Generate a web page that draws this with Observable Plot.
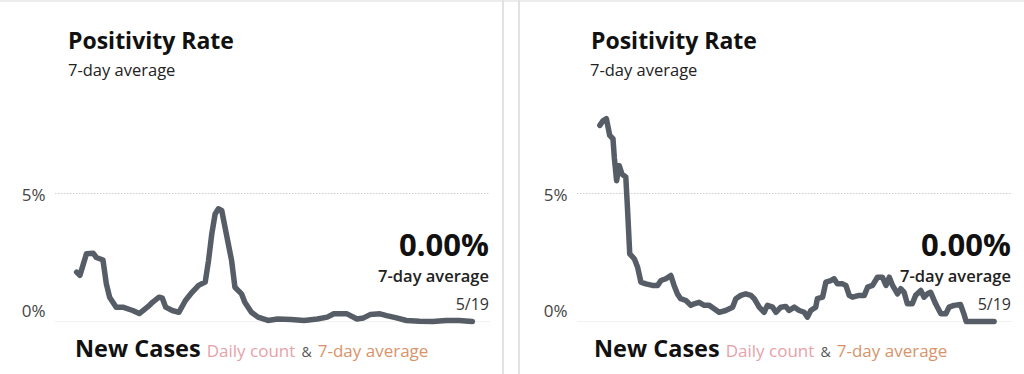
<!DOCTYPE html>
<html>
<head>
<meta charset="utf-8">
<script src="https://cdn.jsdelivr.net/npm/d3@7"></script>
<script src="https://cdn.jsdelivr.net/npm/@observablehq/plot@0.6"></script>
<style>
  html, body { margin: 0; padding: 0; background: #fff; }
  body { width: 1024px; height: 374px; overflow: hidden; position: relative; font-family: "Open Sans", sans-serif; }
  .abs { position: absolute; white-space: nowrap; line-height: 1; z-index: 2; }
  .title { font-weight: 700; font-size: 23px; color: #111; }
  .sub { font-size: 16.5px; color: #222; }
  .big { font-weight: 700; font-size: 31px; color: #111; text-align: right; }
  .avg { font-weight: 600; font-size: 16.5px; color: #222; text-align: right; }
  .date { font-size: 16px; color: #333; text-align: right; }
  .nc { font-weight: 700; font-size: 23.5px; color: #111; }
  .nc span { font-weight: 400; font-size: 17px; }
  .pink { color: #e7a2a9; }
  .amp { color: #555; font-size: 14px !important; }
  .orange { color: #d9936a; }
  .vline { position: absolute; top: 0; width: 2px; height: 374px; background: #e2e2e2; }
  .hline { position: absolute; left: 0; top: 0; width: 1024px; height: 2px; background: #ececec; }
  .chart { position: absolute; top: 0; z-index: 1; }
</style>
</head>
<body>
<div class="hline"></div>
<div class="vline" style="left:502px"></div>
<div class="vline" style="left:518px"></div>
<div id="left" class="chart" style="left:0px"></div>
<div id="right" class="chart" style="left:512px"></div>

<div class="abs title" style="left:68px; top:29px">Positivity Rate</div>
<div class="abs sub" style="left:68px; top:62px">7-day average</div>
<div class="abs big" style="right:535px; top:229px">0.00%</div>
<div class="abs avg" style="right:535px; top:268px">7-day average</div>
<div class="abs date" style="right:535px; top:296px">5/19</div>
<div class="abs nc" style="left:75px; top:337px">New Cases <span class="pink">Daily count</span> <span class="amp">&amp;</span> <span class="orange">7-day average</span></div>

<div class="abs title" style="left:591px; top:29px">Positivity Rate</div>
<div class="abs sub" style="left:590px; top:62px">7-day average</div>
<div class="abs big" style="right:13px; top:229px">0.00%</div>
<div class="abs avg" style="right:13px; top:268px">7-day average</div>
<div class="abs date" style="right:13px; top:296px">5/19</div>
<div class="abs nc" style="left:594px; top:337px">New Cases <span class="pink">Daily count</span> <span class="amp">&amp;</span> <span class="orange">7-day average</span></div>

<script>
// Positivity rate, 7-day average (%), by day index (0 = first day, 120 = 5/19)
const leftDays = [0,1,3,5,6,8,9,10,12,14,17,19,22,23,25,26,27,29,31,33,35,37,39,40,41,42,43,44,45,47,48,50,51,53,55,58,61,65,69,73,76,78,82,85,87,89,92,94,97,100,104,108,112,116,120];
const leftRate = [1.93,1.8,2.65,2.67,2.5,2.4,1.48,0.95,0.56,0.56,0.43,0.31,0.62,0.75,0.95,0.91,0.56,0.43,0.36,0.82,1.14,1.41,1.54,2.38,3.43,4.2,4.4,4.34,3.68,2.38,1.34,1.08,0.75,0.36,0.17,0.04,0.1,0.08,0.04,0.1,0.17,0.3,0.3,0.1,0.14,0.27,0.3,0.23,0.14,0.04,0.01,0,0.04,0.04,0];

const rightDays = [0,1,2,3,4,4.4,5.1,5.9,6.7,7.9,8.4,9.1,10.5,11.5,12.5,14,16,17.6,18.6,20.1,21.6,22.6,23.6,24.6,26.2,27.7,28.7,30.2,31.8,33.3,34.8,36.3,38.3,40.4,41.4,42.9,44.4,46,47,48.5,50,51,52.6,53.6,55.1,56.6,57.6,59.2,60.7,62.2,63.2,64.2,65.7,66.2,67.8,68.8,70.3,71.3,72.3,73.9,74.9,75.9,76.9,78.9,80.5,81.5,83,84.5,86,87.1,88.1,89.1,90.6,91.6,92.6,93.6,95.1,96.1,97.7,98.7,99.7,100.7,102.2,103.8,105.3,106.3,107.8,109.8,110.8,111.5,115.4,120];
const rightRate = [7.66,7.85,7.92,7.27,7.14,6.42,5.5,6.09,5.77,5.64,4.46,2.64,2.45,2.12,1.54,1.47,1.41,1.41,1.6,1.67,1.8,1.41,1.08,0.89,0.82,0.63,0.69,0.75,0.63,0.63,0.5,0.36,0.43,0.56,0.89,1.02,1.08,1.02,0.89,0.56,0.36,0.63,0.56,0.36,0.56,0.59,0.43,0.56,0.43,0.36,0.17,0.43,0.56,0.89,0.95,1.54,1.6,1.67,1.47,1.47,1.41,1.02,0.95,1.02,1.02,1.34,1.41,1.73,1.73,1.41,1.73,1.41,1.08,1.28,1.14,0.69,0.69,1.02,1.21,0.95,1.08,1.14,0.69,0.3,0.3,0.56,0.63,0.66,0.3,0,0,0];

function chart(days, rate, opts) {
  const data = days.map((d, i) => ({day: d, rate: rate[i]}));
  const fmt = d => d + "%";
  return Plot.plot({
    width: 512,
    height: 374,
    marginLeft: opts.ml,
    marginRight: opts.mr,
    marginTop: 116.2,
    marginBottom: 53,
    x: {domain: opts.xd, axis: null},
    y: {domain: [0, 8], axis: null, label: null},
    style: {fontFamily: "Open Sans, sans-serif", background: "transparent", overflow: "visible"},
    marks: [
      Plot.ruleY([0], {stroke: "#f0f0f0", strokeWidth: 1}),
      Plot.ruleY([5], {stroke: "#cfcfcf", strokeWidth: 1, strokeDasharray: "1.5,1.5"}),
      Plot.axisY([5], {label: null, tickSize: 0, tickPadding: 10, dy: 2, fontSize: 17, fill: "#444", tickFormat: fmt}),
      Plot.axisY([0], {label: null, tickSize: 0, tickPadding: 10, dy: -10, fontSize: 17, fill: "#444", tickFormat: fmt}),
      Plot.line(data, {x: "day", y: "rate", stroke: "#575d66", strokeWidth: 5.5, strokeLinejoin: "round", strokeLinecap: "round"})
    ]
  });
}

document.getElementById("left").appendChild(chart(leftDays, leftRate, {ml: 55, mr: 22, xd: [-6.4, 125.5]}));
document.getElementById("right").appendChild(chart(rightDays, rightRate, {ml: 65, mr: 12, xd: [-6.8, 125.6]}));
</script>
</body>
</html>
